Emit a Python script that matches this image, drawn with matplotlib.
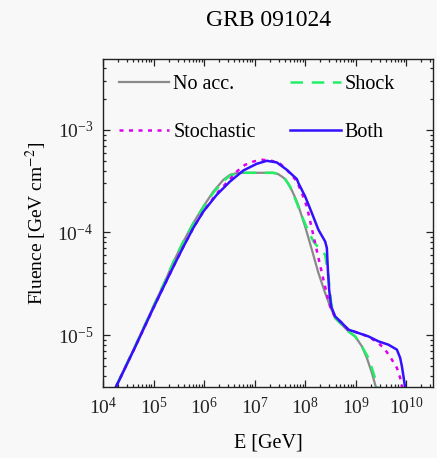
import matplotlib
matplotlib.use("Agg")
import numpy as np
import matplotlib.pyplot as plt
from matplotlib.ticker import LogLocator, NullFormatter

plt.rcParams["font.family"] = "Liberation Serif"
plt.rcParams["mathtext.fontset"] = "stix"

BG = "#f8f8f8"
GRAY = "#8a8a8a"
GREEN = "#22ee66"
MAGENTA = "#dd00ee"
BLUE = "#3311ff"

# log10(E/GeV), log10(fluence / GeV cm^-2)
noacc_logE = [4.257, 4.634, 4.990, 5.228, 5.392, 5.590, 5.788, 5.986, 6.184,
              6.382, 6.515, 6.648, 6.780, 6.911, 7.372, 7.460, 7.539, 7.604,
              7.669, 7.737, 7.802, 7.867, 8.000, 8.133, 8.263, 8.396, 8.495,
              8.594, 8.727, 8.857, 8.990, 9.123, 9.222, 9.321, 9.386, 9.410]
noacc_logF = [-5.500, -5.110, -4.728, -4.475, -4.290, -4.090, -3.908, -3.747,
              -3.601, -3.487, -3.438, -3.422, -3.419, -3.419, -3.419, -3.430,
              -3.455, -3.480, -3.530, -3.590, -3.660, -3.740, -3.942, -4.168,
              -4.395, -4.590, -4.721, -4.834, -4.899, -4.964, -5.013, -5.110,
              -5.223, -5.369, -5.483, -5.520]

shock_logE = [4.257, 4.634, 4.990, 5.228, 5.392, 5.590, 5.788, 5.986, 6.184,
              6.382, 6.515, 6.648, 6.780, 6.911, 7.372, 7.460, 7.539, 7.604,
              7.703, 7.836, 7.966, 8.065, 8.164, 8.297, 8.396, 8.461, 8.515,
              8.594, 8.727, 8.857, 8.990, 9.123, 9.253, 9.352, 9.420, 9.440]
shock_logF = [-5.500, -5.110, -4.728, -4.475, -4.290, -4.090, -3.912, -3.755,
              -3.612, -3.500, -3.445, -3.425, -3.419, -3.419, -3.419, -3.430,
              -3.455, -3.480, -3.552, -3.714, -3.876, -3.990, -4.088, -4.168,
              -4.217, -4.428, -4.687, -4.834, -4.899, -4.964, -5.013, -5.110,
              -5.223, -5.369, -5.483, -5.520]

stoch_logE = [4.263, 4.634, 4.990, 5.228, 5.426, 5.590, 5.788, 5.986, 6.251,
              6.515, 6.648, 6.812, 6.976, 7.143, 7.307, 7.505, 7.638, 7.836,
              7.935, 8.034, 8.099, 8.164, 8.232, 8.297, 8.362, 8.430, 8.461,
              8.529, 8.594, 8.727, 8.857, 9.055, 9.253, 9.451, 9.584, 9.717,
              9.816, 9.881, 9.915, 9.930]
stoch_logF = [-5.500, -5.119, -4.743, -4.500, -4.300, -4.140, -3.955, -3.796,
              -3.620, -3.480, -3.406, -3.341, -3.309, -3.292, -3.297, -3.330,
              -3.390, -3.500, -3.616, -3.747, -3.890, -4.030, -4.180, -4.320,
              -4.460, -4.600, -4.670, -4.770, -4.820, -4.882, -4.947, -4.980,
              -5.015, -5.077, -5.142, -5.240, -5.320, -5.418, -5.500, -5.530]

both_logE = [4.263, 4.634, 4.990, 5.228, 5.426, 5.590, 5.788, 5.986, 6.251,
             6.515, 6.778, 7.044, 7.242, 7.440, 7.638, 7.836, 7.867, 8.000,
             8.133, 8.263, 8.396, 8.430, 8.450, 8.475, 8.515, 8.594, 8.727,
             8.857, 9.055, 9.253, 9.451, 9.650, 9.816, 9.881, 9.915, 9.946,
             9.980]
both_logF = [-5.500, -5.119, -4.743, -4.500, -4.300, -4.140, -3.955, -3.796,
             -3.633, -3.503, -3.396, -3.331, -3.302, -3.318, -3.390, -3.480,
             -3.519, -3.649, -3.811, -3.974, -4.088, -4.152, -4.363, -4.558,
             -4.721, -4.818, -4.882, -4.947, -4.980, -5.013, -5.061, -5.094,
             -5.142, -5.223, -5.305, -5.402, -5.515]

fig = plt.figure(figsize=(4.37, 4.58), dpi=100, facecolor=BG)
ax = fig.add_axes([0.2357, 0.155, 0.7551, 0.7162], facecolor=BG)


def pw(a):
    return 10.0 ** np.asarray(a)


kw = dict(solid_joinstyle="round", dash_joinstyle="round")
h_noacc, = ax.plot(pw(noacc_logE), pw(noacc_logF), color=GRAY, lw=1.6,
                   label="No acc.", **kw)
h_shock, = ax.plot(pw(shock_logE), pw(shock_logF), color=GREEN, lw=1.8,
                   dashes=(5, 3.5), label="Shock", **kw)
h_stoch, = ax.plot(pw(stoch_logE), pw(stoch_logF), color=MAGENTA, lw=1.8,
                   dashes=(1.6, 2.2), label="Stochastic", **kw)
h_both, = ax.plot(pw(both_logE), pw(both_logF), color=BLUE, lw=1.8,
                  label="Both", **kw)

ax.set_xscale("log")
ax.set_yscale("log")
ax.set_xlim(1e4, 10 ** 10.53)
ax.set_ylim(10 ** -5.506, 10 ** -2.31)

ax.xaxis.set_major_locator(LogLocator(base=10, numticks=20))
ax.yaxis.set_major_locator(LogLocator(base=10, numticks=20))
ax.xaxis.set_minor_locator(LogLocator(base=10, subs=np.arange(2, 10), numticks=20))
ax.yaxis.set_minor_locator(LogLocator(base=10, subs=np.arange(2, 10), numticks=20))
ax.xaxis.set_minor_formatter(NullFormatter())
ax.yaxis.set_minor_formatter(NullFormatter())
ax.tick_params(which="both", direction="in", top=True, right=True,
               labelsize=14, width=0.9, colors="#222222")
ax.tick_params(which="major", length=5, pad=7)
ax.tick_params(which="minor", length=2.5)
for s in ax.spines.values():
    s.set_linewidth(1.0)
    s.set_color("#222222")

ax.set_xlabel("E [GeV]", fontsize=14.5, labelpad=11)
ax.set_ylabel(r"Fluence [GeV cm$^{-2}$]", fontsize=14, labelpad=6)
fig.text(0.614, 0.956, "GRB 091024", ha="center", va="center", fontsize=17)

ax.legend([h_noacc, h_stoch, h_shock, h_both],
          ["No acc.", "Stochastic", "Shock", "Both"],
          loc="upper left", bbox_to_anchor=(0.0, 1.0), ncol=2, frameon=False,
          fontsize=14.5, handlelength=2.5, handletextpad=0.2,
          columnspacing=1.7, labelspacing=1.45, borderaxespad=0.4)

fig.savefig("out.png", dpi=100, facecolor=BG)
